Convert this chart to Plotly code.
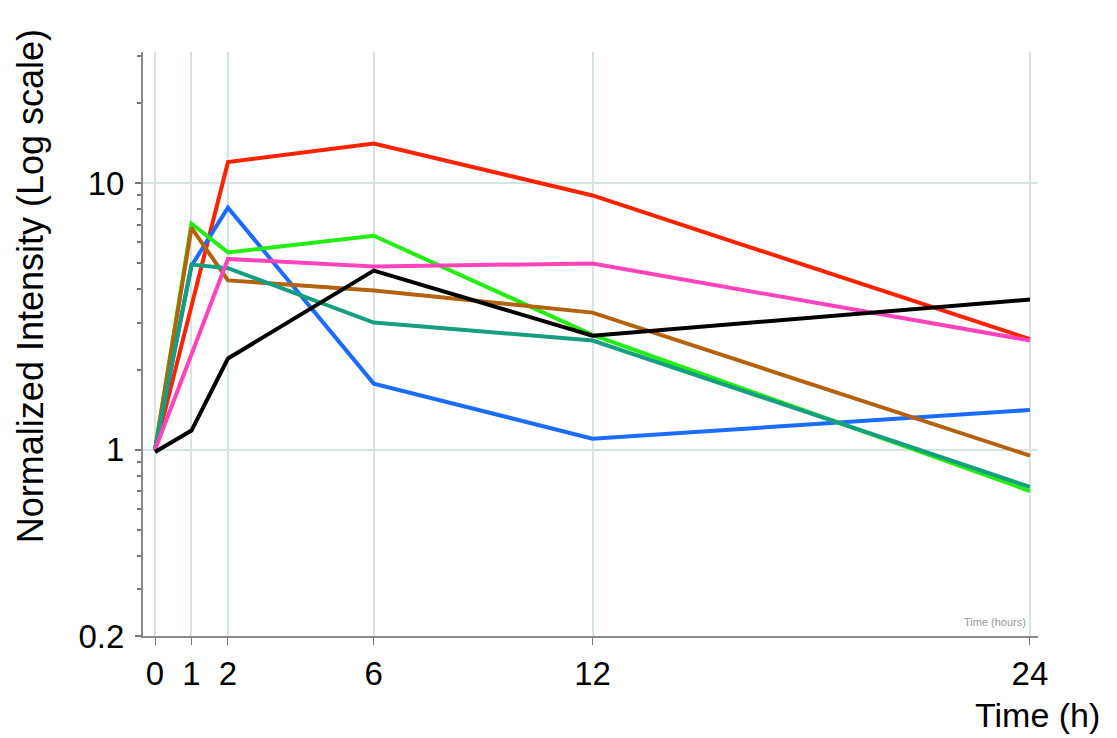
import plotly.graph_objects as go

# Data
time_h = [0, 1, 2, 6, 12, 24]

red = [1.0, 3.45, 12.0, 14.1, 9.0, 2.6]
blue = [1.0, 4.9, 8.1, 1.77, 1.10, 1.41]
green = [1.0, 7.05, 5.5, 6.35, 2.7, 0.70]
brown = [1.0, 6.8, 4.32, 3.96, 3.27, 0.95]
teal = [1.0, 4.95, 4.8, 3.0, 2.57, 0.725]
pink = [1.0, 2.26, 5.2, 4.87, 5.0, 2.57]
black = [0.98, 1.18, 2.2, 4.7, 2.68, 3.66]

series = [
    ("red", red, "#ff2200"),
    ("blue", blue, "#1a6cff"),
    ("green", green, "#22ee11"),
    ("brown", brown, "#b5620f"),
    ("teal", teal, "#139f80"),
    ("pink", pink, "#ff44bb"),
    ("black", black, "#000000"),
]

x_ticks = [0, 1, 2, 6, 12, 24]
x_ticktext = ["0", "1", "2", "6", "12", "24"]
y_ticks = [0.2, 1, 10]
y_ticktext = ["0.2", "1", "10"]
y_minor = [0.3, 0.4, 0.5, 0.6, 0.7, 0.8, 0.9, 2, 3, 4, 5, 6, 7, 8, 9, 20, 30]
cursor_x = 2

fig = go.Figure()
for name, vals, col in series:
    fig.add_trace(go.Scatter(x=time_h, y=vals, mode="lines", name=name,
                             line=dict(color=col, width=4), showlegend=False))

font_family = "Liberation Sans, Arial, Helvetica, sans-serif"

fig.update_layout(
    width=1105, height=730,
    margin=dict(l=135, r=75, t=44, b=102),
    paper_bgcolor="white", plot_bgcolor="white",
    font=dict(family=font_family, color="black"),
    xaxis=dict(
        range=[-0.33, 24.22],
        tickmode="array", tickvals=x_ticks, ticktext=x_ticktext,
        ticks="outside", ticklen=7, tickcolor="#777", tickwidth=1,
        tickfont=dict(size=33, family=font_family),
        showgrid=True, gridcolor="#d6e4e4", gridwidth=1.5,
        showline=True, linecolor="#8a8a8a", linewidth=2,
        zeroline=False,
    ),
    yaxis=dict(
        type="log", range=[-0.699, 1.4925],
        tickmode="array", tickvals=y_ticks, ticktext=y_ticktext,
        ticks="outside", ticklen=6, tickcolor="#777", tickwidth=1.5,
        tickfont=dict(size=33, family=font_family),
        ticklabelstandoff=4,
        showgrid=True, gridcolor="#d6e4e4", gridwidth=1.5,
        showline=True, linecolor="#8a8a8a", linewidth=2,
        zeroline=False,
        minor=dict(tickmode="array", tickvals=y_minor, ticks="outside",
                   ticklen=4, tickcolor="#777", tickwidth=1.5, showgrid=False),
    ),
    shapes=[dict(type="line", xref="x", yref="paper", x0=cursor_x, x1=cursor_x,
                 y0=0, y1=1, line=dict(color="#8c8c8c", width=2), layer="below")],
    annotations=[
        dict(text="Normalized Intensity (Log scale)", xref="paper", yref="paper",
             x=-0.1263, y=0.599, xanchor="center", yanchor="middle",
             textangle=-90, showarrow=False,
             font=dict(size=36, family=font_family)),
        dict(text="Time (h)", xref="paper", yref="paper", x=0.9994, y=-0.135,
             xanchor="center", yanchor="middle", showarrow=False,
             font=dict(size=34, family=font_family)),
        dict(text="Time (hours)", xref="paper", yref="paper", x=0.989, y=0.0103,
             xanchor="right", yanchor="bottom", showarrow=False,
             font=dict(size=11, color="#999", family=font_family)),
    ],
)

fig.write_html("out.html")
